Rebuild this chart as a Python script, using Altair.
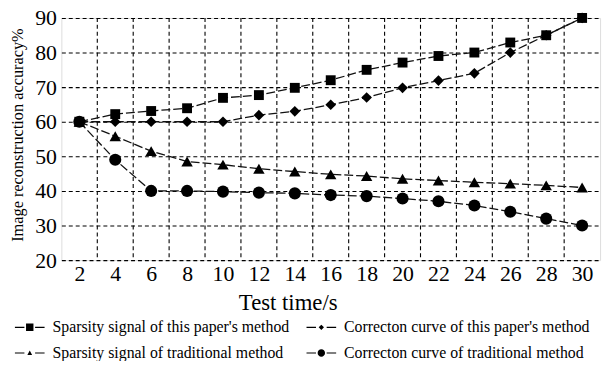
import altair as alt
import pandas as pd

# ---- data ----
test_time = [2, 4, 6, 8, 10, 12, 14, 16, 18, 20, 22, 24, 26, 28, 30]
sparsity_paper = [60, 62.2, 63.1, 63.9, 66.9, 67.7, 69.8, 72, 75, 77.1, 79, 80, 82.9, 85, 90]
correction_paper = [60, 60, 60, 60, 60, 61.9, 63, 64.9, 67, 69.8, 71.9, 74, 80, 85, 90]
sparsity_trad = [60, 55.8, 51.5, 48.5, 47.6, 46.4, 45.6, 44.8, 44.3, 43.5, 43, 42.5, 42.1, 41.6, 41]
correction_trad = [60, 49, 40, 40, 39.8, 39.5, 39.3, 38.8, 38.5, 37.8, 37, 35.8, 34, 32, 30]

series_names = [
    "Sparsity signal of this paper's method",
    "Correcton curve of this paper's method",
    "Sparsity signal of traditional method",
    "Correcton curve of traditional method",
]
series_values = [sparsity_paper, correction_paper, sparsity_trad, correction_trad]
marker_shapes = ["square", "diamond", "triangle-up", "circle"]
marker_sizes = [100, 150, 120, 180]

x_ticks = list(range(2, 31, 2))
x_grid = list(range(3, 30, 2))
y_ticks = list(range(20, 91, 10))

# legend symbols: short line + small marker + short line
seg = "M-1,-0.04H-0.36V0.04H-1ZM0.36,-0.04H1V0.04H0.36Z"
legend_paths = [
    seg + "M-0.25,-0.25H0.25V0.25H-0.25Z",
    seg + "M-0.18,0L0,-0.18L0.18,0L0,0.18Z",
    seg + "M-0.16,0.13L0,-0.17L0.16,0.13Z",
    seg + "M-0.25,0A0.25,0.25 0 1,0 0.25,0A0.25,0.25 0 1,0 -0.25,0Z",
]
# legend fills column by column: put entries in that order
legend_order = [0, 2, 1, 3]
legend_domain = [series_names[i] for i in legend_order]
legend_range = [legend_paths[i] for i in legend_order]

rows = []
for k, (name, vals) in enumerate(zip(series_names, series_values)):
    for t, v in zip(test_time, vals):
        rows.append({"series": name, "t": t, "acc": v, "ord": k})
df = pd.DataFrame(rows)
grid_df = pd.DataFrame({"gx": x_grid})

FONT = "Liberation Serif"
xscale = alt.Scale(domain=[1, 31], nice=False, zero=False)
yscale = alt.Scale(domain=[20, 90], nice=False, zero=False)

x_axis = alt.Axis(
    values=x_ticks, grid=False, ticks=False, domain=False, tickSize=0,
    labelFont=FONT, labelFontSize=22, labelColor="black", labelPadding=4,
    labelFlush=False, labelOverlap=False,
    title="Test time/s", titleFont=FONT, titleFontSize=23, titleFontWeight="normal",
    titleColor="black", titleX=229, titleY=50, titleBaseline="alphabetic", titleAlign="center",
)
y_axis = alt.Axis(
    values=y_ticks, grid=True, gridDash=[4, 3], gridColor="black", gridWidth=1.1,
    gridOpacity=1, ticks=False, domain=False, tickSize=0,
    labelFont=FONT, labelFontSize=22, labelColor="black", labelPadding=5,
    labelFlush=False, labelOverlap=False,
    title="Image reconstruction accuracy%", titleFont=FONT, titleFontSize=16.5,
    titleFontWeight="normal", titleColor="black", titleX=-44, titleY=118,
    titleAngle=270, titleAlign="center", titleBaseline="middle",
)

X = alt.X("t:Q", scale=xscale, axis=x_axis, title="Test time/s")
Y = alt.Y("acc:Q", scale=yscale, axis=y_axis, title="Image reconstruction accuracy%")

grid = alt.Chart(grid_df).mark_rule(color="black", strokeWidth=1.1, strokeDash=[4, 3]).encode(
    x=alt.X("gx:Q", scale=xscale, axis=x_axis, title="Test time/s")
)

base = alt.Chart(df)
lines = base.mark_line(color="#111", strokeWidth=1.3, strokeDash=[9, 3]).encode(
    x=X, y=Y, detail="series:N",
)
points = base.mark_point(filled=True, color="black", opacity=1).encode(
    x=X, y=Y,
    shape=alt.Shape("series:N", scale=alt.Scale(domain=series_names, range=marker_shapes), legend=None),
    size=alt.Size("series:N", scale=alt.Scale(domain=series_names, range=marker_sizes), legend=None),
    order=alt.Order("ord:Q"),
)

legend_layer = base.mark_point(filled=True, color="black").encode(
    x=X, y=Y,
    shape=alt.Shape(
        "series:N",
        scale=alt.Scale(domain=legend_domain, range=legend_range),
        legend=alt.Legend(
            title=None, orient="none", legendX=-47, legendY=298, columns=2,
            columnPadding=17, rowPadding=3, symbolSize=900, labelOffset=8,
            labelFont=FONT, labelFontSize=16, labelColor="black", labelLimit=400,
            symbolFillColor="black", symbolStrokeWidth=0, symbolOpacity=1, padding=0,
        ),
    ),
).transform_filter("false")

chart = alt.layer(grid, lines, points, legend_layer).resolve_scale(
    shape="independent", size="independent"
).properties(
    width=545, height=245, autosize="none",
    padding={"left": 54, "top": 8, "right": 6, "bottom": 100},
).configure_view(
    stroke="black", strokeWidth=1.2
).configure_axis(
    labelFont=FONT, titleFont=FONT, labelColor="black", titleColor="black"
).configure_text(font=FONT).configure(font=FONT)

chart.save("out.html", embed_options={"renderer": "svg", "actions": False})
